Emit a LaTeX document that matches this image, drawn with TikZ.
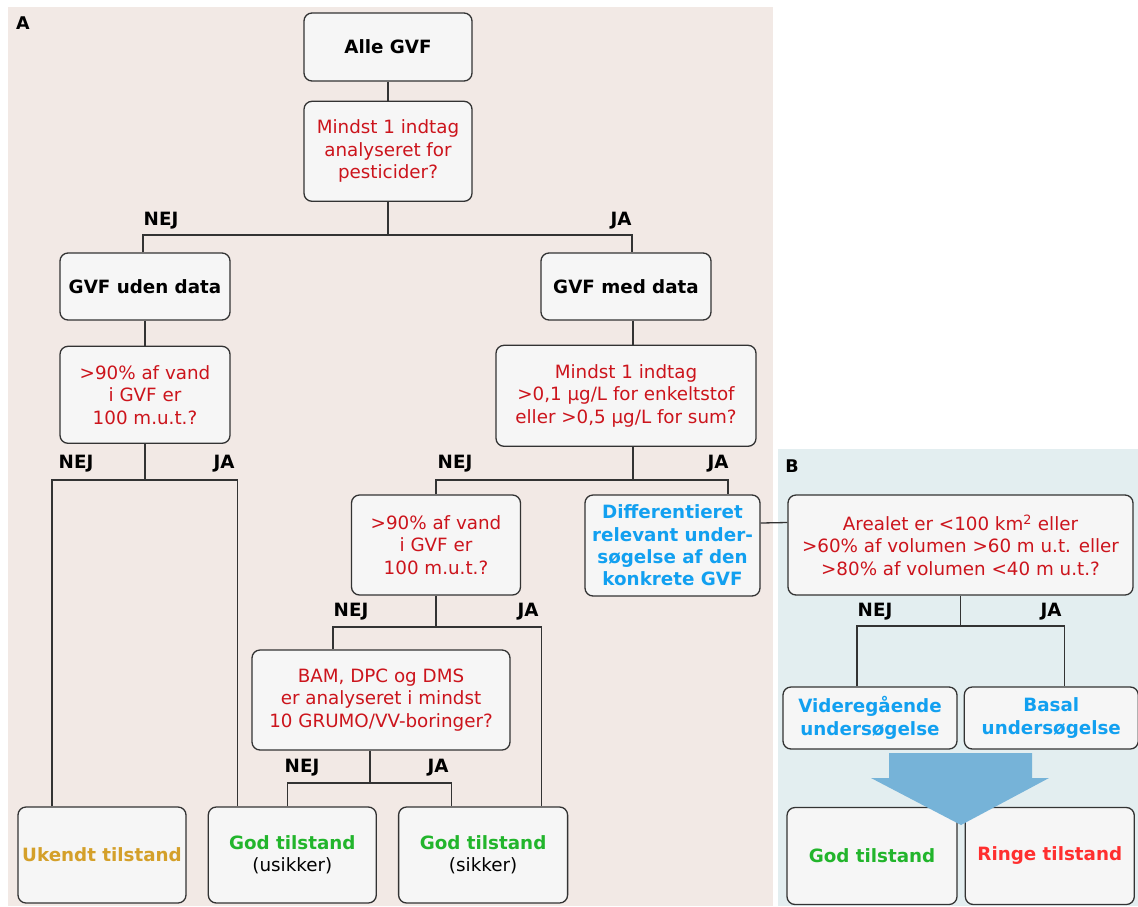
\documentclass[tikz,border=0pt]{standalone}
\usepackage{fontspec}
\setmainfont{DejaVu Sans}
\usetikzlibrary{positioning}
\definecolor{Ink}{HTML}{333333}
\definecolor{BoxFill}{HTML}{F6F6F6}
\definecolor{PanelA}{HTML}{F2E9E5}
\definecolor{PanelB}{HTML}{E3EEF0}
\definecolor{QRed}{HTML}{CC141C}
\definecolor{Sky}{HTML}{12A0F0}
\definecolor{Leaf}{HTML}{22B52C}
\definecolor{Ochre}{HTML}{D4A02A}
\definecolor{Alarm}{HTML}{FF2F2F}
\definecolor{Flow}{HTML}{76B3D8}
\newcommand\flowfont{\fontsize{18.3}{22.4}\selectfont}
\tikzset{
 block/.style={draw=Ink,fill=BoxFill,rounded corners=8pt,align=center,
   line width=1.3pt,inner sep=2pt,font=\flowfont},
 query/.style={block,text=QRed},
 result/.style={block,font=\flowfont\bfseries},
 wire/.style={draw=Ink,line width=1.3pt},
 yesno/.style={font=\flowfont\bfseries,inner sep=0pt},
 panel/.style={font=\fontsize{17.5}{20}\selectfont\bfseries,inner sep=0pt}
}
\begin{document}
\begin{tikzpicture}[x=1pt,y=-1pt]
\useasboundingbox (0,0) rectangle (1138,906);
\fill[PanelA] (8,7) rectangle (773,906);
\fill[PanelB] (778,449) rectangle (1138,906);
\node[panel] (pa) at (23,23.5) {A};
\node[panel] (pb) at (792,466.5) {B};
\node[result,minimum width=168pt,minimum height=68pt] (alle) at (388,47) {Alle GVF};
\node[query,minimum width=168pt,minimum height=100pt,below=19pt of alle] (q1) {Mindst 1 indtag\\analyseret for\\pesticider?};
\node[result,minimum width=170pt,minimum height=67pt] (uden) at (145,286.5) {GVF uden data};
\node[result,minimum width=170pt,minimum height=67pt] (med) at (626,286.5) {GVF med data};
\node[query,minimum width=170pt,minimum height=97pt,below=25pt of uden] (q2) {>90\% af vand\\i GVF er\\100 m.u.t.?};
\node[query,minimum width=260pt,minimum height=101pt,below=24pt of med] (q3) {Mindst 1 indtag\\>0,1 µg/L for enkeltstof\\eller >0,5 µg/L for sum?};
\node[query,minimum width=169pt,minimum height=100pt] (q4) at (436,545) {>90\% af vand\\i GVF er\\100 m.u.t.?};
\node[result,minimum width=175pt,minimum height=101pt,text=Sky] (diff) at (672.5,545.5) {Differentieret\\relevant under-\\søgelse af den\\konkrete GVF};
\node[query,minimum width=258pt,minimum height=100pt] (q5) at (381,700) {BAM, DPC og DMS\\er analyseret i mindst\\10 GRUMO/VV-boringer?};
\node[result,minimum width=168pt,minimum height=96pt,text=Ochre] (ukendt) at (102,855) {Ukendt tilstand};
\node[block,minimum width=168pt,minimum height=96pt,right=21pt of ukendt] (usikker) {\textbf{\color{Leaf}God tilstand}\\(usikker)};
\node[block,minimum width=169pt,minimum height=96pt,right=21pt of usikker] (sikker) {\textbf{\color{Leaf}God tilstand}\\(sikker)};
\node[query,minimum width=345pt,minimum height=100pt] (qb) at (960.5,545) {Arealet er <100 km\textsuperscript{2} eller\\>60\% af volumen >60 m u.t. eller\\>80\% af volumen <40 m u.t.?};
\node[result,minimum width=174pt,minimum height=62pt,text=Sky] (vid) at (870,718) {Videregående\\undersøgelse};
\node[result,minimum width=174pt,minimum height=62pt,text=Sky,right=6pt of vid] (basal) {Basal\\undersøgelse};
\node[result,minimum width=170pt,minimum height=97pt,text=Leaf] (godb) at (872,856) {God tilstand};
\node[result,minimum width=169pt,minimum height=97pt,text=Alarm,right=7pt of godb] (ringe) {Ringe tilstand};
\coordinate (k1) at (388,235);\coordinate (k2) at (145,480);\coordinate (k3) at (633,480);
\coordinate (k4) at (436,627);\coordinate (k5) at (370,783);\coordinate (k6) at (960.5,626);
\draw[wire] (alle) -- (q1);\draw[wire] (q1) -- (k1);
\draw[wire] ([xshift=-2pt]uden.north) |- (k1) -| ([xshift=6pt]med.north);
\draw[wire] (uden) -- (q2);\draw[wire] (q2) -- (k2);
\draw[wire] ([xshift=-50pt]ukendt.north) |- (k2) -| ([xshift=-55pt]usikker.north);
\draw[wire] ([xshift=7pt]med.south) -- ([xshift=7pt]q3.north);\draw[wire] ([xshift=7pt]q3.south) -- (k3);
\draw[wire] (q4.north) |- (k3) -| ([xshift=55.5pt]diff.north);
\draw[wire] (q4) -- (k4);
\draw[wire] ([xshift=-48pt]q5.north) |- (k4) -| ([xshift=58.5pt]sikker.north);
\draw[wire] ([xshift=-11pt]q5.south) -- (k5);
\draw[wire] ([xshift=-5pt]usikker.north) |- (k5) -| ([xshift=-31.5pt]sikker.north);
\draw[wire] ([yshift=22.5pt]diff.east) -- ([yshift=22.5pt]qb.west);
\draw[wire] (qb) -- (k6);
\draw[wire] ([xshift=-13pt]vid.north) |- (k6) -| ([xshift=13pt]basal.north);
\node[yesno] (n1) at (161,221) {NEJ};\node[yesno] (y1) at (621,221) {JA};
\node[yesno] (n2) at (76,464) {NEJ};\node[yesno] (y2) at (224,464) {JA};
\node[yesno] (n3) at (455,464) {NEJ};\node[yesno] (y3) at (718,464) {JA};
\node[yesno] (n4) at (351,612) {NEJ};\node[yesno] (y4) at (528,612) {JA};
\node[yesno] (n5) at (302,768) {NEJ};\node[yesno] (y5) at (438,768) {JA};
\node[yesno] (n6) at (875,612) {NEJ};\node[yesno] (y6) at (1051,612) {JA};
\fill[Flow] (889,753) -- (1032,753) -- (1032,778) -- (1049,778) -- (961,825) -- (871,778) -- (889,778) -- cycle;
\end{tikzpicture}
\end{document}
